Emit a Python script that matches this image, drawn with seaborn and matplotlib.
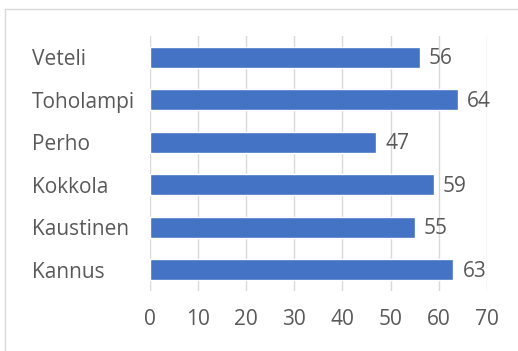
import matplotlib
matplotlib.use('Agg')
import matplotlib.pyplot as plt
import seaborn as sns
import pandas as pd

# data (top to bottom as shown)
towns = ['Veteli', 'Toholampi', 'Perho', 'Kokkola', 'Kaustinen', 'Kannus']
values = [56, 64, 47, 59, 55, 63]
x_ticks = [0, 10, 20, 30, 40, 50, 60, 70]

df = pd.DataFrame({'town': towns, 'value': values})

sns.set_theme(style='white')
plt.rcParams['font.family'] = ['Open Sans', 'DejaVu Sans']

fig = plt.figure(figsize=(5.18, 3.51), dpi=100)
ax = fig.add_axes([149.5 / 518, 1 - 291 / 351, (487 - 149.5) / 518, (291 - 36) / 351])

sns.barplot(data=df, x='value', y='town', order=towns, color='#4472C4',
            width=0.5, saturation=1, ax=ax)

txt = '#595959'
fs = 15
for i, v in enumerate(values):
    ax.text(v + 1.9, i + 0.03, str(v), va='center', ha='left', fontsize=fs, color=txt)

ax.set_xlim(0, 70)
ax.set_ylim(5.5, -0.5)
ax.set_xticks(x_ticks)
ax.set_xticklabels([str(t) for t in x_ticks])
ax.xaxis.grid(True, color='#D9D9D9', linewidth=1)
ax.set_axisbelow(True)
for s in ax.spines.values():
    s.set_visible(False)
ax.set_xlabel('')
ax.set_ylabel('')
ax.tick_params(axis='both', length=0, labelsize=fs, colors=txt)
ax.tick_params(axis='x', pad=13)
for lbl in ax.get_yticklabels():
    lbl.set_horizontalalignment('left')
    lbl.set_x(-(149.5 - 32) / (487 - 149.5))
ax.yaxis.set_tick_params(pad=0)

# outer frame (left and top edges only visible)
fig.add_artist(plt.Line2D([5 / 518, 5 / 518], [0, 1 - 9 / 351], transform=fig.transFigure,
                          color='#D9D9D9', linewidth=1))
fig.add_artist(plt.Line2D([5 / 518, 1], [1 - 9 / 351, 1 - 9 / 351], transform=fig.transFigure,
                          color='#D9D9D9', linewidth=1))

fig.savefig('out.png', dpi=100)
